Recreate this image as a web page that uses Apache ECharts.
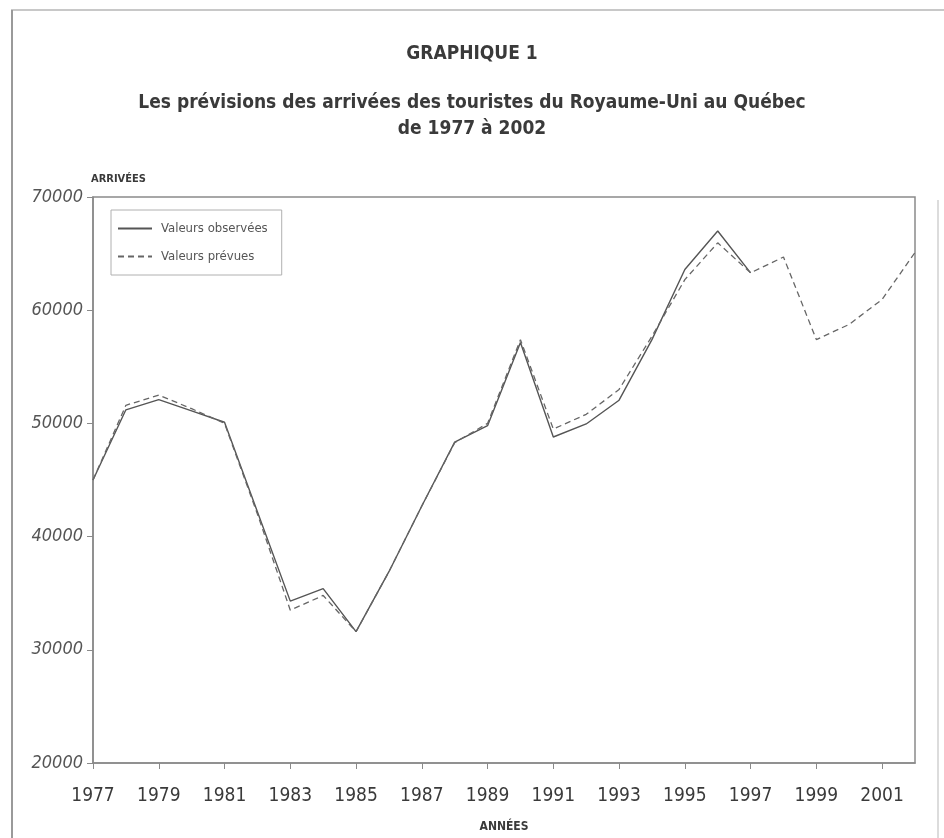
<!DOCTYPE html>
<html>
<head>
<meta charset="utf-8">
<title>Graphique 1</title>
<script src="https://cdn.jsdelivr.net/npm/echarts@6/dist/echarts.min.js"></script>
<style>
  html, body { margin: 0; padding: 0; background: #fff; }
  #chart { width: 944px; height: 838px; }
</style>
</head>
<body>
<div id="chart"></div>
<script>
// années 1977 à 2002
const years = ['1977', '1978', '1979', '1980', '1981', '1982', '1983', '1984', '1985', '1986',
  '1987', '1988', '1989', '1990', '1991', '1992', '1993', '1994', '1995', '1996',
  '1997', '1998', '1999', '2000', '2001', '2002'];

// valeurs observées (jusqu'à 1997)
const observed = [45000, 51200, 52100, 51100, 50100, 42200, 34300, 35400, 31600, 36900,
  42700, 48350, 49800, 57150, 48800, 49950, 52050, 57400, 63600, 67000,
  63300, null, null, null, null, null];

// valeurs prévues
const forecast = [45000, 51600, 52500, 51300, 50000, 42000, 33500, 34800, 31600, 36900,
  42700, 48300, 50000, 57400, 49500, 50800, 53000, 57700, 62700, 65950,
  63300, 64700, 57400, 58750, 60950, 65100];

const font = "'DejaVu Sans Condensed', 'Liberation Sans Narrow', sans-serif";
const ink = '#3a3a3a';
const axisGray = '#8a8a8a';

let mychart = echarts.init(document.getElementById('chart'));

mychart.setOption({
  backgroundColor: '#fff',
  animation: false,
  title: [
    {
      text: 'GRAPHIQUE 1',
      left: 'center',
      top: 40,
      textStyle: { fontFamily: font, fontSize: 19, fontWeight: 'bold', color: ink }
    },
    {
      text: 'Les prévisions des arrivées des touristes du Royaume-Uni au Québec',
      left: 'center',
      top: 89,
      textStyle: { fontFamily: font, fontSize: 19, fontWeight: 'bold', color: ink }
    },
    {
      text: 'de 1977 à 2002',
      left: 'center',
      top: 115,
      textStyle: { fontFamily: font, fontSize: 19, fontWeight: 'bold', color: ink }
    }
  ],
  legend: {
    orient: 'vertical',
    left: 111,
    top: 210,
    padding: [12, 14, 12, 6],
    itemGap: 15,
    itemWidth: 34,
    itemHeight: 14,
    borderColor: '#b0b0b0',
    borderWidth: 1,
    itemStyle: { opacity: 0 },
    textStyle: { fontFamily: font, fontSize: 13, color: '#555', padding: [0, 0, 0, 4] },
    data: ['Valeurs observées', 'Valeurs prévues']
  },
  grid: {
    left: 93,
    right: 29,
    top: 197,
    bottom: 73,
    show: true,
    borderColor: axisGray,
    borderWidth: 1.5
  },
  xAxis: {
    type: 'category',
    data: years,
    boundaryGap: false,
    name: 'ANNÉES',
    nameLocation: 'middle',
    nameGap: 58,
    nameTextStyle: { fontFamily: font, fontSize: 12, fontWeight: 'bold', color: ink },
    axisLine: { lineStyle: { color: axisGray, width: 1.5 } },
    axisTick: { interval: 1, length: 6, lineStyle: { color: axisGray } },
    axisLabel: { interval: 1, margin: 24, fontFamily: font, fontSize: 19, color: ink },
    splitLine: { show: false }
  },
  yAxis: {
    type: 'value',
    min: 20000,
    max: 70000,
    interval: 10000,
    name: 'ARRIVÉES',
    nameLocation: 'end',
    nameGap: 12,
    nameTextStyle: { fontFamily: font, fontSize: 11, fontWeight: 'bold', color: ink, align: 'left', padding: [0, 0, 0, -2] },
    axisLine: { show: true, lineStyle: { color: axisGray, width: 1.5 } },
    axisTick: { show: true, length: 6, lineStyle: { color: axisGray } },
    axisLabel: {
      margin: 10, fontFamily: font, fontSize: 18, fontStyle: 'italic', color: '#555',
      formatter: function (v) { return String(v); }
    },
    splitLine: { show: false }
  },
  graphic: [
    {
      type: 'line',
      shape: { x1: 11, y1: 10, x2: 944, y2: 10 },
      style: { stroke: '#c8c8c8', lineWidth: 2 }
    },
    {
      type: 'line',
      shape: { x1: 12, y1: 10, x2: 12, y2: 838 },
      style: { stroke: '#9a9a9a', lineWidth: 2 }
    },
    {
      type: 'line',
      shape: { x1: 938, y1: 200, x2: 938, y2: 838 },
      style: { stroke: '#d0d0d0', lineWidth: 1.5 }
    }
  ],
  series: [
    {
      name: 'Valeurs observées',
      type: 'line',
      data: observed,
      symbol: 'none',
      lineStyle: { color: '#555', width: 1.4, type: 'solid' },
      itemStyle: { color: '#555' }
    },
    {
      name: 'Valeurs prévues',
      type: 'line',
      data: forecast,
      symbol: 'none',
      lineStyle: { color: '#666', width: 1.3, type: [6, 4] },
      itemStyle: { color: '#666' }
    }
  ]
});
</script>
</body>
</html>
